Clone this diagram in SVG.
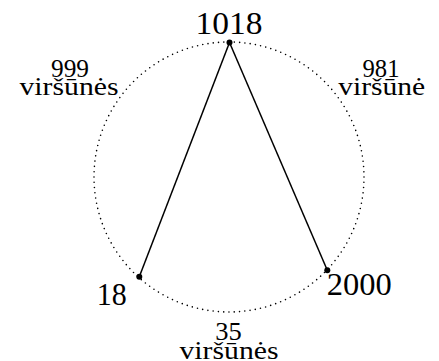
<svg xmlns="http://www.w3.org/2000/svg" width="439" height="361" viewBox="0 0 439 361">
<style>
text{font-family:"Liberation Serif","DejaVu Serif",serif;fill:#000;text-anchor:middle}
.big{font-size:31px}
.small{font-size:26px}
.edge{stroke:#000;stroke-width:1.5;fill:none}
.ring{stroke:#000;stroke-width:1.6;fill:none;stroke-dasharray:0 5.3;stroke-linecap:round}
.dot{fill:#000}
</style>
<rect width="439" height="361" fill="#fff"/>
<circle class="ring" cx="229" cy="177" r="135"/>
<g id="connectors">
<line class="edge" x1="229.5" y1="42.5" x2="139.3" y2="276.7"/>
<line class="edge" x1="229.5" y1="42.5" x2="327.3" y2="270.3"/>
</g>
<g id="n1018"><circle class="dot" cx="229.5" cy="42.5" r="3"/><text class="big" x="229" y="33.5" textLength="67" lengthAdjust="spacingAndGlyphs">1018</text></g>
<g id="n18"><circle class="dot" cx="139.3" cy="276.7" r="3"/><text class="big" x="111.7" y="305" textLength="30" lengthAdjust="spacingAndGlyphs">18</text></g>
<g id="n2000"><circle class="dot" cx="327.3" cy="270.3" r="3"/><text class="big" x="359.2" y="295" textLength="65" lengthAdjust="spacingAndGlyphs">2000</text></g>
<g id="label-left"><text class="small" x="70" y="76.7" textLength="38" lengthAdjust="spacingAndGlyphs">999</text><text class="small" x="69" y="94.5" textLength="99" lengthAdjust="spacingAndGlyphs">viršūnės</text></g>
<g id="label-right"><text class="small" x="381" y="76.7" textLength="37" lengthAdjust="spacingAndGlyphs">981</text><text class="small" x="381.7" y="94.5" textLength="87" lengthAdjust="spacingAndGlyphs">viršūnė</text></g>
<g id="label-bottom"><text class="small" x="228.5" y="340" textLength="26.5" lengthAdjust="spacingAndGlyphs">35</text><text class="small" x="229" y="358.5" textLength="99" lengthAdjust="spacingAndGlyphs">viršūnės</text></g>
</svg>
